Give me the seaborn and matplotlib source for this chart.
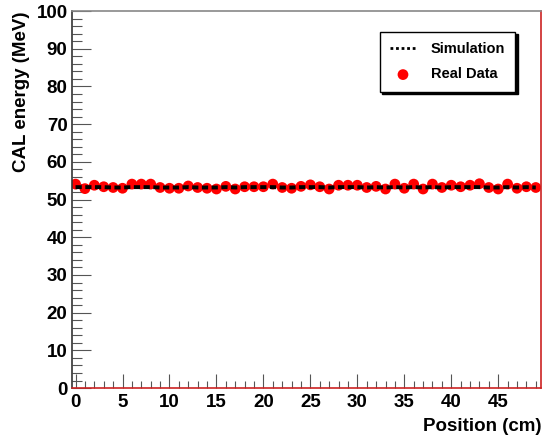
import matplotlib
matplotlib.use("Agg")
import matplotlib.pyplot as plt
import seaborn as sns
import pandas as pd
from matplotlib.ticker import MultipleLocator

# position of each measurement (cm)
positions = [0, 1, 2, 3, 4, 5, 6, 7, 8, 9,
             10, 11, 12, 13, 14, 15, 16, 17, 18, 19,
             20, 21, 22, 23, 24, 25, 26, 27, 28, 29,
             30, 31, 32, 33, 34, 35, 36, 37, 38, 39,
             40, 41, 42, 43, 44, 45, 46, 47, 48, 49]

# measured CAL energy (MeV)
real_data = [54.1, 52.9, 53.8, 53.4, 53.2, 53.0, 54.1, 54.1, 54.1, 53.2,
             53.0, 53.0, 53.6, 53.2, 53.0, 52.8, 53.5, 52.8, 53.4, 53.4,
             53.4, 54.1, 53.2, 53.0, 53.5, 53.9, 53.4, 52.8, 53.8, 53.8,
             53.8, 53.2, 53.5, 52.8, 54.1, 53.0, 54.1, 52.8, 54.1, 53.2,
             53.8, 53.4, 53.8, 54.2, 53.2, 52.8, 54.1, 53.0, 53.4, 53.2]

# simulated CAL energy (MeV)
simulation = [53.3, 53.3, 53.3, 53.3, 53.2, 53.2, 53.3, 53.3, 53.3, 53.2,
              53.2, 53.2, 53.3, 53.2, 53.2, 53.2, 53.3, 53.2, 53.3, 53.3,
              53.3, 53.3, 53.2, 53.2, 53.3, 53.3, 53.3, 53.2, 53.3, 53.3,
              53.3, 53.2, 53.3, 53.2, 53.3, 53.2, 53.3, 53.2, 53.3, 53.2,
              53.3, 53.3, 53.3, 53.3, 53.2, 53.2, 53.3, 53.2, 53.3, 53.2]

df = pd.DataFrame({"pos": positions, "data": real_data, "sim": simulation})

sns.set_style("white")
plt.rcParams["font.family"] = ["Liberation Sans", "DejaVu Sans"]
plt.rcParams["font.weight"] = "bold"
plt.rcParams["text.color"] = "black"
plt.rcParams["axes.labelcolor"] = "black"

fig = plt.figure(figsize=(5.48, 4.42), dpi=100)
ax = fig.add_axes([0.131, 0.122, 0.857, 0.853])

sns.lineplot(data=df, x="pos", y="sim", ax=ax, color="black",
             linewidth=2.8, linestyle=(0, (1.6, 0.9)), label="Simulation",
             zorder=3)
sns.scatterplot(data=df, x="pos", y="data", ax=ax, color="red", s=60,
                edgecolor="none", label="Real Data", zorder=2)

ax.set_xlim(-0.4, 49.6)
ax.set_ylim(0, 100)

ax.xaxis.set_major_locator(MultipleLocator(5))
ax.xaxis.set_minor_locator(MultipleLocator(1))
ax.yaxis.set_major_locator(MultipleLocator(10))
ax.yaxis.set_minor_locator(MultipleLocator(2))
ax.set_xticks(range(0, 50, 5))

ax.tick_params(axis="both", which="both", direction="in", labelcolor="black",
               labelsize=13.5, width=0.8, bottom=True, left=True,
               top=False, right=False)
ax.tick_params(axis="y", which="major", length=14, pad=3, color="#555555")
ax.tick_params(axis="y", which="minor", length=7, color="#555555")
ax.tick_params(axis="x", which="major", length=10, pad=4, color="#555555")
ax.tick_params(axis="x", which="minor", length=5, color="#555555")
for lab in ax.get_xticklabels() + ax.get_yticklabels():
    lab.set_fontweight("bold")

ax.spines["left"].set_color("#333333")
ax.spines["top"].set_color("#888888")
ax.spines["right"].set_color("#cc2222")
ax.spines["bottom"].set_color("#cc2222")
for s in ax.spines.values():
    s.set_linewidth(1.2)

ax.set_xlabel("Position (cm)", fontsize=13.5, fontweight="bold", loc="right",
              labelpad=5, color="black")
ax.set_ylabel("CAL energy (MeV)", fontsize=13.5, fontweight="bold", loc="top",
              labelpad=5, color="black")

leg = ax.legend(loc="upper left", bbox_to_anchor=(0.64, 0.965),
                frameon=True, fancybox=False, edgecolor="black",
                framealpha=1, shadow={"color": "black", "alpha": 1},
                prop={"weight": "bold", "size": 10.5}, handlelength=1.8,
                borderpad=0.7, labelspacing=0.8, handletextpad=1.0)
leg.get_frame().set_linewidth(1.0)
leg.legend_handles[0].set_linestyle((0, (1, 1)))
leg.legend_handles[0].set_linewidth(2)
for t in leg.get_texts():
    t.set_color("black")

fig.savefig("out.png", dpi=100)
